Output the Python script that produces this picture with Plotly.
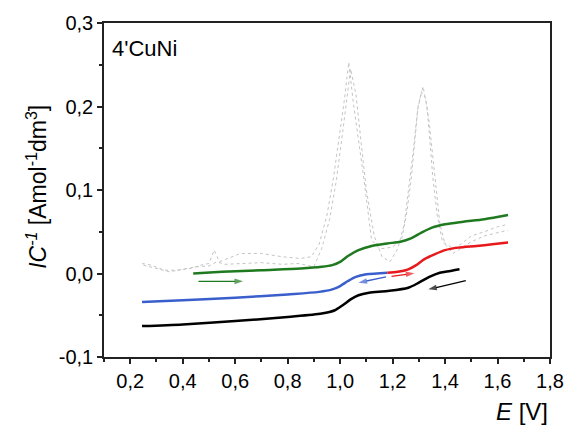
import plotly.graph_objects as go

# Potential axis (V)
green_x = [0.44, 0.55, 0.70, 0.85, 0.93, 0.97, 1.00, 1.03, 1.07, 1.12, 1.18, 1.23, 1.27, 1.31, 1.35, 1.40, 1.47, 1.55, 1.64]
green_y = [0.000, 0.002, 0.004, 0.006, 0.008, 0.010, 0.014, 0.021, 0.028, 0.033, 0.036, 0.038, 0.042, 0.049, 0.055, 0.059, 0.062, 0.065, 0.070]

blue_x = [0.245, 0.40, 0.60, 0.80, 0.92, 0.97, 1.00, 1.03, 1.06, 1.10, 1.14, 1.18]
blue_y = [-0.034, -0.032, -0.029, -0.025, -0.022, -0.019, -0.015, -0.009, -0.004, -0.001, 0.000, 0.001]

red_x = [1.18, 1.22, 1.26, 1.29, 1.32, 1.36, 1.40, 1.45, 1.52, 1.58, 1.64]
red_y = [0.001, 0.002, 0.005, 0.010, 0.017, 0.023, 0.028, 0.031, 0.033, 0.035, 0.037]

black_x = [0.245, 0.40, 0.60, 0.80, 0.93, 0.98, 1.01, 1.04, 1.07, 1.11, 1.18, 1.26, 1.30, 1.34, 1.38, 1.42, 1.455]
black_y = [-0.063, -0.061, -0.057, -0.052, -0.048, -0.044, -0.038, -0.031, -0.026, -0.023, -0.021, -0.017, -0.011, -0.004, 0.001, 0.003, 0.005]

# Derivative curves (dotted, light gray)
deriv_a_x = [0.245, 0.28, 0.33, 0.38, 0.43, 0.47, 0.50, 0.52, 0.54, 0.57, 0.62, 0.70, 0.78, 0.85, 0.89,
             0.92, 0.95, 0.975, 1.00, 1.015, 1.033, 1.05, 1.07, 1.09, 1.12, 1.15, 1.17, 1.20, 1.234,
             1.255, 1.272, 1.285, 1.297, 1.316, 1.331, 1.342, 1.353, 1.37, 1.39, 1.43, 1.46, 1.50,
             1.55, 1.60, 1.64]
deriv_a_y = [0.012, 0.010, 0.004, 0.004, 0.006, 0.010, 0.012, 0.028, 0.014, 0.018, 0.024, 0.024, 0.020, 0.018, 0.020,
             0.035, 0.070, 0.115, 0.170, 0.205, 0.253, 0.205, 0.160, 0.115, 0.040, 0.030, 0.030, 0.032, 0.040,
             0.075, 0.116, 0.160, 0.200, 0.224, 0.200, 0.160, 0.116, 0.070, 0.038, 0.030, 0.035, 0.045,
             0.050, 0.056, 0.059]

deriv_b_x = [0.25, 0.30, 0.35, 0.40, 0.45, 0.50, 0.53, 0.56, 0.62, 0.70, 0.78, 0.84, 0.90, 0.93, 0.96,
             0.985, 1.01, 1.025, 1.04, 1.06, 1.08, 1.10, 1.13, 1.16, 1.19, 1.22, 1.245, 1.265, 1.28,
             1.295, 1.31, 1.325, 1.34, 1.36, 1.38, 1.40, 1.43, 1.46, 1.50, 1.55, 1.60, 1.64]
deriv_b_y = [0.010, 0.006, 0.002, 0.005, 0.008, 0.009, 0.014, 0.011, 0.012, 0.013, 0.011, 0.012, 0.008, 0.030, 0.065,
             0.110, 0.170, 0.210, 0.245, 0.215, 0.160, 0.100, 0.045, 0.020, 0.014, 0.030, 0.060, 0.110, 0.150,
             0.195, 0.218, 0.210, 0.180, 0.120, 0.060, 0.035, 0.024, 0.030, 0.038, 0.045, 0.049, 0.052]

# Scan-direction arrows: (tail_x, tail_y, head_x, head_y, colour)
arrows = [
    (0.46, -0.0094, 0.63, -0.0094, "#1f7a1f"),
    (1.175, -0.004, 1.07, -0.011, "#3a5fcd"),
    (1.196, -0.0035, 1.283, 0.0004, "#e8191b"),
    (1.479, -0.0086, 1.336, -0.019, "#000000"),
]

x_tick_vals = [0.2, 0.4, 0.6, 0.8, 1.0, 1.2, 1.4, 1.6, 1.8]
x_tick_text = ["0,2", "0,4", "0,6", "0,8", "1,0", "1,2", "1,4", "1,6", "1,8"]
y_tick_vals = [-0.1, 0.0, 0.1, 0.2, 0.3]
y_tick_text = ["-0,1", "0,0", "0,1", "0,2", "0,3"]

FONT = "Liberation Sans, Arial, sans-serif"

fig = go.Figure()

for xs, ys in [(deriv_a_x, deriv_a_y), (deriv_b_x, deriv_b_y)]:
    fig.add_trace(go.Scatter(x=xs, y=ys, mode="lines",
                             line=dict(color="#c4c4c4", width=1, dash="dot"),
                             hoverinfo="skip"))

for xs, ys, col in [(green_x, green_y, "#1f7a1f"), (blue_x, blue_y, "#3a5fcd"),
                    (red_x, red_y, "#e8191b"), (black_x, black_y, "#000000")]:
    fig.add_trace(go.Scatter(x=xs, y=ys, mode="lines",
                             line=dict(color=col, width=2.5, shape="spline", smoothing=0.8)))

# arrows drawn as a short line with an arrow-shaped marker at the head
for tx, ty, hx, hy, col in arrows:
    fig.add_trace(go.Scatter(x=[tx, hx], y=[ty, hy], mode="lines+markers",
                             line=dict(color=col, width=1.3),
                             marker=dict(symbol=["circle", "arrow"], size=[0, 9], color=col,
                                         angleref="previous", line=dict(width=0)),
                             hoverinfo="skip"))

fig.add_annotation(x=0.013, y=0.925, xref="paper", yref="paper", xanchor="left", yanchor="middle",
                   text="4'CuNi", showarrow=False, font=dict(family=FONT, size=22, color="#000"))

fig.add_annotation(x=1.0, y=-0.163, xref="paper", yref="paper", xanchor="right", yanchor="middle",
                   text="<i>E</i> [V]", showarrow=False, font=dict(family=FONT, size=24, color="#000"))

fig.add_annotation(x=-0.152, y=0.51, xref="paper", yref="paper", xanchor="center", yanchor="middle",
                   textangle=-90, showarrow=False,
                   text="<i>IC</i><sup><i>-1</i></sup> [Amol<sup>-1</sup>dm<sup>3</sup>]",
                   font=dict(family=FONT, size=23, color="#000"))

axis_common = dict(showgrid=False, zeroline=False, showline=True, linecolor="#222", linewidth=1.5,
                   mirror=True, ticks="outside", ticklen=5, tickwidth=1.5, tickcolor="#222",
                   tickfont=dict(family=FONT, size=20, color="#000"))

fig.update_xaxes(range=[0.1, 1.8], tickmode="array", tickvals=x_tick_vals, ticktext=x_tick_text,
                 minor=dict(ticks="outside", ticklen=3, dtick=0.1, tick0=0.1, tickcolor="#222", tickwidth=1.5),
                 **axis_common)
fig.update_yaxes(range=[-0.1, 0.3], tickmode="array", tickvals=y_tick_vals, ticktext=y_tick_text,
                 minor=dict(ticks="outside", ticklen=3, dtick=0.05, tick0=-0.05, tickcolor="#222", tickwidth=1.5),
                 **axis_common)

fig.update_layout(width=576, height=428, margin=dict(l=104, r=19, t=21, b=71),
                  paper_bgcolor="white", plot_bgcolor="white", showlegend=False)

fig.write_html("out.html")
